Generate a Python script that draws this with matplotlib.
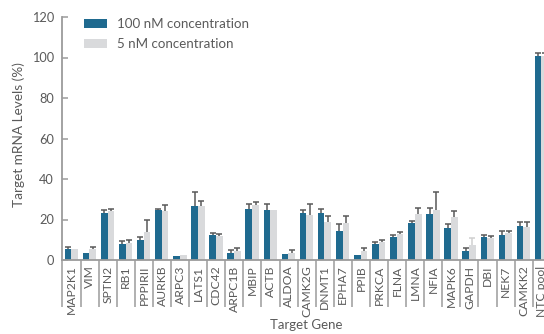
import numpy as np
import matplotlib
matplotlib.use("Agg")
import matplotlib.pyplot as plt

plt.rcParams['font.family'] = ['Lato', 'DejaVu Sans']

genes = ["MAP2K1", "VIM", "SPTN2", "RB1", "PPPIRII", "AURKB", "ARPC3", "LATS1",
         "CDC42", "ARPC1B", "MBIP", "ACTB", "ALDOA", "CAMK2G", "DNMT1", "EPHA7",
         "PPIB", "PRKCA", "FLNA", "LMNA", "NFIA", "MAPK6", "GAPDH", "DBI", "NEK7",
         "CAMKK2", "NTC pool"]

# mean mRNA level (%) and upper error for each treatment
level_100nM = [5.4, 3.5, 23.2, 7.9, 9.9, 24.7, 2.0, 26.7, 12.3, 3.5, 25.2, 24.7, 3.0,
               23.2, 23.2, 14.3, 2.5, 7.9, 11.4, 18.3, 22.7, 15.8, 4.4, 11.4, 12.3,
               16.8, 100.5]
err_100nM = [0.9, 0.0, 1.3, 1.3, 1.3, 0.7, 0.0, 7.0, 1.2, 1.3, 2.3, 2.8, 0.0,
             1.3, 2.2, 3.3, 0.0, 0.8, 0.9, 1.0, 2.8, 1.8, 1.4, 1.1, 1.9,
             1.8, 1.5]
level_5nM = [5.4, 5.4, 24.2, 8.4, 13.8, 24.2, 2.5, 26.7, 11.9, 4.4, 27.2, 24.7, 3.5,
             22.2, 18.8, 18.3, 4.4, 8.9, 12.8, 22.7, 24.7, 21.2, 7.2, 10.9, 13.3,
             16.3, 100.5]
err_5nM = [0.0, 1.2, 1.2, 1.3, 5.8, 2.8, 0.0, 2.6, 1.1, 1.3, 1.6, 0.0, 1.3,
           5.3, 2.8, 3.3, 1.3, 0.8, 1.0, 3.1, 8.7, 2.8, 3.5, 1.1, 0.9,
           2.3, 1.5]

BLUE = "#1f6a8f"
GREY = "#d9dadc"
AXIS_GREY = "#9b9b9b"
ERR_DARK = "#595959"
ERR_LIGHT = "#cfcfcf"
TEXT = "#5a5a5a"

W, H = 544, 334
fig = plt.figure(figsize=(W / 100, H / 100), dpi=100)
ax_left, ax_bottom, ax_right, ax_top = 61.5, 260, 559.8, 17
ax = fig.add_axes([ax_left / W, (H - ax_bottom) / H,
                   (ax_right - ax_left) / W, (ax_bottom - ax_top) / H])

x = np.arange(len(genes))
bw = 0.37
off_a, off_b = -0.2, 0.17

ax.bar(x + off_a, level_100nM, width=bw, color=BLUE, zorder=2,
       label="100 nM concentration")
ax.bar(x + off_b, level_5nM, width=bw, color=GREY, zorder=2,
       label="5 nM concentration")

# error bars sit behind the bars so only the upper half shows
def draw_err(xpos, vals, errs, colors):
    for xi, v, e, c in zip(xpos, vals, errs, colors):
        if e <= 0:
            continue
        ax.errorbar(xi, v, yerr=e, fmt="none", ecolor=c, elinewidth=1.1,
                    capsize=2.4, capthick=1.1, zorder=1)

err_cols_5 = [ERR_LIGHT if g == "GAPDH" else ERR_DARK for g in genes]
draw_err(x + off_a, level_100nM, err_100nM, [ERR_DARK] * len(genes))
draw_err(x + off_b, level_5nM, err_5nM, err_cols_5)

x_lo = -0.56
ax.set_xlim(x_lo, 27)
ax.set_ylim(0, 120)

ax.spines["top"].set_visible(False)
ax.spines["right"].set_visible(False)
for s in ("left", "bottom"):
    ax.spines[s].set_color(AXIS_GREY)
    ax.spines[s].set_linewidth(1.3)

ax.set_yticks([0, 20, 40, 60, 80, 100, 120])
ax.tick_params(axis="y", direction="in", length=4.2, width=1.1,
               color=AXIS_GREY, labelsize=9.2, labelcolor=TEXT, pad=5.5)

ax.set_xticks(x)
ax.set_xticklabels(genes, rotation=90, ha="center", va="top")
ax.tick_params(axis="x", which="major", length=0, labelsize=8.7,
               labelcolor=TEXT, pad=4)
ax.set_xticks([x_lo] + list(np.arange(0.5, 27, 1.0)), minor=True)
ax.tick_params(axis="x", which="minor", direction="out", length=34,
               width=1.1, color=AXIS_GREY)

ax.set_ylabel("Target mRNA Levels (%)", fontsize=9.8, color=TEXT)
ax.yaxis.set_label_coords((25 - ax_left) / (ax_right - ax_left), 0.515)
ax.set_xlabel("Target Gene", fontsize=9.5, color=TEXT)
ax.xaxis.set_label_coords((306 - ax_left) / (ax_right - ax_left),
                          (ax_bottom - 319) / (ax_bottom - ax_top))

leg = ax.legend(loc="upper left",
                bbox_to_anchor=((84 - ax_left) / (ax_right - ax_left), 0.995),
                frameon=False, fontsize=9.6, handlelength=1.75,
                handleheight=0.62, handletextpad=0.7, labelspacing=0.6,
                borderpad=0, borderaxespad=0)
for t in leg.get_texts():
    t.set_color(TEXT)

fig.savefig("out.png", dpi=100)
